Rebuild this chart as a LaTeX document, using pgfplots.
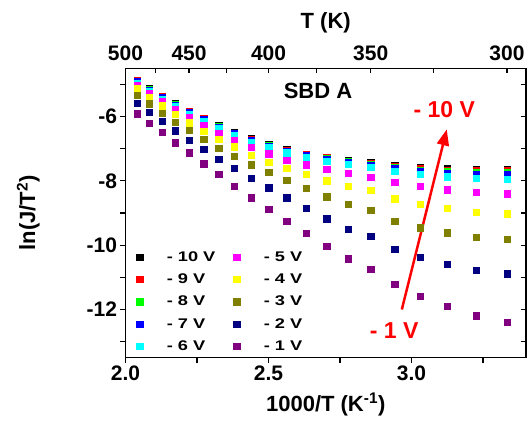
\documentclass[border=0pt]{standalone}
\usepackage{pgfplots}
\usepackage{pgfplotstable}
\pgfplotsset{compat=1.18}
\usepackage{fontspec}
\setmainfont{Liberation Sans}
\newfontfamily\legfont[FakeStretch=1.3]{Liberation Sans}
\usetikzlibrary{arrows.meta}

\definecolor{cgreen}{RGB}{0,255,0}
\definecolor{ccyan}{RGB}{0,255,255}
\definecolor{cmag}{RGB}{255,0,255}
\definecolor{cyel}{RGB}{255,255,0}
\definecolor{colive}{RGB}{128,128,0}
\definecolor{cnavy}{RGB}{0,0,128}
\definecolor{cpurp}{RGB}{128,0,128}

\pgfplotstableread{
x m10 m9 m8 m7 m6 m5 m4 m3 m2 m1
2.0408 -4.87 -4.89 -4.91 -4.92 -4.97 -5.02 -5.14 -5.34 -5.59 -5.91
2.0833 -5.13 -5.15 -5.17 -5.18 -5.23 -5.27 -5.40 -5.60 -5.86 -6.20
2.1277 -5.36 -5.38 -5.40 -5.41 -5.46 -5.52 -5.66 -5.89 -6.15 -6.49
2.1739 -5.59 -5.61 -5.63 -5.64 -5.69 -5.77 -5.93 -6.17 -6.44 -6.81
2.2222 -5.83 -5.85 -5.87 -5.88 -5.93 -6.02 -6.19 -6.43 -6.73 -7.13
2.2727 -6.05 -6.07 -6.09 -6.10 -6.15 -6.27 -6.45 -6.70 -7.02 -7.47
2.3256 -6.28 -6.30 -6.32 -6.33 -6.38 -6.51 -6.70 -6.98 -7.32 -7.80
2.3810 -6.49 -6.51 -6.53 -6.54 -6.59 -6.74 -6.94 -7.24 -7.61 -8.16
2.4390 -6.69 -6.71 -6.73 -6.74 -6.79 -6.96 -7.20 -7.50 -7.91 -8.52
2.5000 -6.87 -6.89 -6.91 -6.92 -6.97 -7.16 -7.42 -7.74 -8.21 -8.89
2.5641 -7.03 -7.05 -7.07 -7.08 -7.13 -7.35 -7.61 -7.98 -8.52 -9.25
2.6316 -7.17 -7.19 -7.21 -7.22 -7.27 -7.50 -7.80 -8.22 -8.85 -9.62
2.7027 -7.26 -7.28 -7.30 -7.33 -7.38 -7.63 -7.99 -8.49 -9.18 -10.03
2.7778 -7.35 -7.38 -7.40 -7.43 -7.49 -7.77 -8.16 -8.73 -9.50 -10.42
2.8571 -7.42 -7.45 -7.48 -7.51 -7.58 -7.88 -8.30 -8.92 -9.72 -10.74
2.9412 -7.52 -7.55 -7.59 -7.62 -7.70 -8.04 -8.56 -9.25 -10.12 -11.21
3.0303 -7.58 -7.62 -7.66 -7.70 -7.79 -8.17 -8.73 -9.46 -10.37 -11.58
3.1250 -7.62 -7.67 -7.71 -7.76 -7.87 -8.28 -8.86 -9.61 -10.59 -11.90
3.2258 -7.63 -7.69 -7.74 -7.79 -7.92 -8.36 -8.97 -9.76 -10.77 -12.19
3.3333 -7.63 -7.69 -7.75 -7.80 -7.94 -8.40 -9.02 -9.82 -10.89 -12.40
}\data

\pgfplotsset{
  sq/.style={only marks, mark=square*, mark size=3.2pt,
    legend image code/.code={\path (0pt,0pt) (30pt,0pt); \draw[##1] plot coordinates {(5pt,0pt)};}},
  common/.style={scale only axis, width=400.5pt, height=289.4pt,
    xmin=2, xmax=3.4, ymin=-13.5, ymax=-4.5,
    axis line style={line width=1.2pt},
    tick style={line width=1.2pt, black},
    major tick length=5pt, minor tick length=5pt,
    /pgf/number format/assume math mode=true,
    ticklabel style={font=\bfseries\fontsize{21}{24}\selectfont},
    label style={font=\bfseries\fontsize{22}{26}\selectfont}},
}

\begin{document}
\begin{tikzpicture}
\begin{axis}[common, name=main,
  xtick={2,2.5,3}, minor xtick={2.25,2.75,3.25},
  ytick={-12,-10,-8,-6}, minor ytick={-13,-11,-9,-7,-5},
  xtick pos=bottom, ytick pos=left, tick align=outside,
  xticklabel style={/pgf/number format/.cd, fixed, fixed zerofill, precision=1},
  xlabel={1000/T (K\textsuperscript{-1})},
  xlabel style={yshift=-5pt},
  ylabel={ln(J/T\textsuperscript{2})},
  ylabel style={yshift=40pt},
  legend columns=5, transpose legend, legend cell align=left,
  legend style={at={(axis cs:2.02,-13.45)}, anchor=south west, draw=none, fill=none,
    font=\legfont\bfseries\fontsize{14}{16}\selectfont,
    row sep=7pt,
    /tikz/every even column/.append style={column sep=14pt}},
]
\addplot[sq, color=black] table[x=x,y=m10] {\data};
\addplot[sq, color=red] table[x=x,y=m9] {\data};
\addplot[sq, color=cgreen] table[x=x,y=m8] {\data};
\addplot[sq, color=blue] table[x=x,y=m7] {\data};
\addplot[sq, color=ccyan] table[x=x,y=m6] {\data};
\addplot[sq, color=cmag] table[x=x,y=m5] {\data};
\addplot[sq, color=cyel] table[x=x,y=m4] {\data};
\addplot[sq, color=colive] table[x=x,y=m3] {\data};
\addplot[sq, color=cnavy] table[x=x,y=m2] {\data};
\addplot[sq, color=cpurp] table[x=x,y=m1] {\data};
\legend{- 10 V,- 9 V,- 8 V,- 7 V,- 6 V,- 5 V,- 4 V,- 3 V,- 2 V,- 1 V}
\node[font=\bfseries\fontsize{22}{26}\selectfont] at (axis cs:2.673,-5.19) {SBD A};
\node[text=red, font=\bfseries\fontsize{23}{26}\selectfont] at (axis cs:3.114,-5.77) {- 10 V};
\node[text=red, font=\bfseries\fontsize{23}{26}\selectfont] at (axis cs:2.939,-12.67) {- 1 V};
\draw[red, line width=2.5pt, -{Triangle[width=12pt,length=16pt]}] (axis cs:2.966,-12.0) -- (axis cs:3.123,-6.40);
\end{axis}
\begin{axis}[common,
  xtick pos=top, ytick pos=right, tick align=inside,
  xtick={2,2.2222,2.5,2.8571,3.3333}, xticklabels={500,450,400,350,300},
  xticklabel style={yshift=4pt},
  minor xtick={2.1053,2.3529,2.6667,3.0769},
  ytick={-12,-10,-8,-6}, yticklabels={}, minor ytick={-13,-11,-9,-7,-5},
  xlabel={T (K)},
  xlabel style={yshift=6pt},
]
\end{axis}
\pgfresetboundingbox
\path ([shift={(-125.5pt,-64.3pt)}]main.south west) rectangle ([shift={(1pt,68.3pt)}]main.north east);
\end{tikzpicture}
\end{document}
